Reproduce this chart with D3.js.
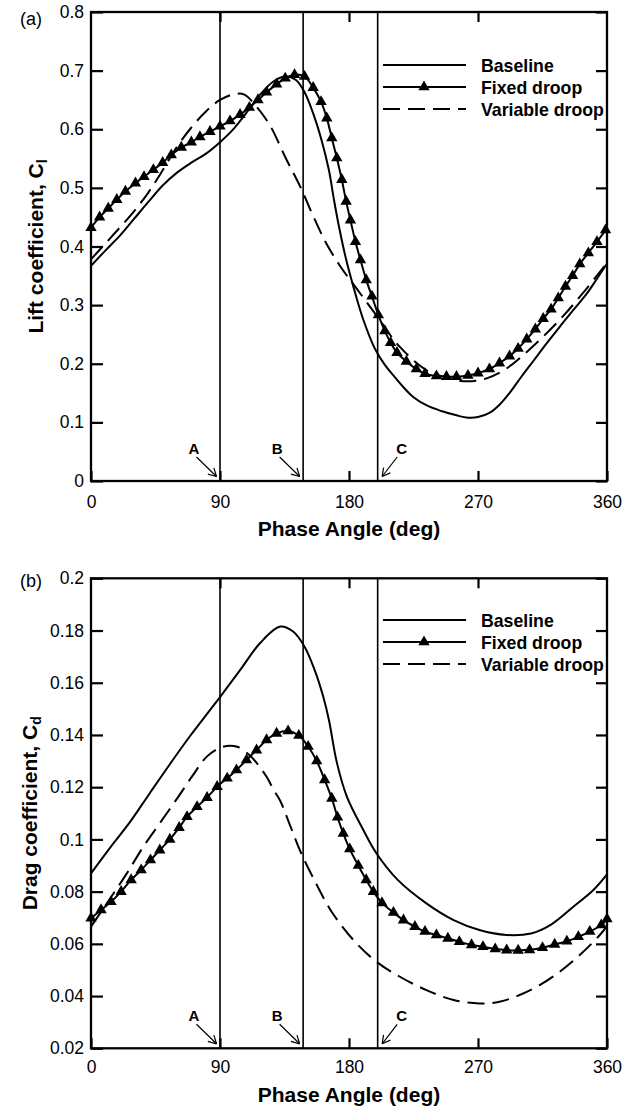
<!DOCTYPE html>
<html>
<head>
<meta charset="utf-8">
<script src="https://cdn.jsdelivr.net/npm/d3@7"></script>
<style>
body { margin: 0; background: #fff; }
text { font-family: Arial, "Liberation Sans", sans-serif; fill: #000; }
</style>
</head>
<body>
<svg id="chart" width="629" height="1106"></svg>
<script>
// phase angle (deg), coefficient
var baselineCl = [[0,0.367],[10,0.393],[20,0.418],[30,0.447],[40,0.476],[50,0.504],[60,0.526],[70,0.543],[80,0.558],[90,0.578],[100,0.602],[110,0.633],[118,0.659],[127,0.681],[135,0.690],[143,0.684],[149,0.663],[155,0.627],[161,0.580],[166,0.530],[169.5,0.480],[173,0.434],[177.5,0.383],[183,0.332],[190,0.275],[198,0.226],[205,0.198],[211,0.180],[218,0.160],[225,0.143],[235,0.128],[245,0.119],[255,0.112],[263,0.108],[270,0.109],[278,0.116],[285,0.130],[292,0.150],[300,0.177],[309,0.206],[318,0.235],[327,0.263],[337,0.293],[346,0.320],[353,0.345],[360,0.371]];
var fixedCl = [[0,0.432],[6,0.450],[12,0.465],[18,0.480],[24,0.494],[31,0.508],[37,0.519],[43.5,0.531],[50,0.543],[56,0.556],[63,0.569],[70,0.578],[76,0.587],[83,0.596],[90,0.605],[97,0.614],[104,0.625],[110.5,0.637],[116.5,0.650],[122.5,0.663],[129.5,0.677],[135.5,0.687],[142,0.693],[149,0.690],[155,0.671],[160.5,0.647],[164.5,0.619],[168,0.585],[171.5,0.551],[175,0.514],[178,0.477],[181,0.445],[184.5,0.408],[188,0.377],[192,0.343],[196,0.315],[200.5,0.283],[205,0.256],[209,0.236],[213.5,0.219],[220,0.204],[227,0.191],[233,0.183],[241,0.179],[248,0.178],[255,0.178],[263,0.180],[270,0.184],[278,0.191],[285,0.201],[292,0.213],[298,0.226],[304,0.242],[310,0.259],[315.5,0.277],[321,0.293],[326,0.312],[331,0.332],[336,0.350],[341,0.370],[347,0.389],[353,0.408],[359,0.428]];
var variableCl = [[0,0.378],[10,0.405],[20,0.432],[30,0.46],[40,0.492],[50,0.530],[60,0.570],[70,0.603],[80,0.630],[90,0.650],[100,0.660],[107,0.659],[115,0.640],[125,0.606],[136,0.550],[146,0.502],[155,0.452],[164,0.406],[174,0.366],[186,0.326],[199,0.283],[215,0.230],[234,0.189],[250,0.175],[262,0.170],[276,0.175],[290,0.192],[308,0.229],[327,0.275],[343,0.320],[360,0.372]];

var baselineCd = [[0,0.087],[13,0.0966],[27,0.1065],[41,0.1177],[55,0.1288],[69,0.1395],[83,0.1495],[90,0.1545],[104,0.1648],[118,0.1752],[132,0.1815],[141,0.1796],[149,0.1738],[156,0.1649],[162,0.1547],[166,0.1457],[171.5,0.1295],[178.5,0.1164],[190,0.1036],[199,0.0948],[214,0.0845],[234,0.0755],[253,0.0691],[271,0.0653],[290,0.0634],[307,0.0640],[321,0.0674],[336.5,0.0742],[350.5,0.0806],[360,0.0866]];
var fixedCd = [[0,0.0698],[7,0.073],[14,0.0761],[21,0.080],[28,0.0845],[35,0.0883],[41.5,0.0921],[48,0.0959],[55,0.100],[61.5,0.1045],[67,0.1087],[74,0.1125],[81,0.116],[88,0.1202],[95,0.1234],[101.5,0.1266],[108.5,0.1304],[115.5,0.1342],[122.5,0.1381],[129.5,0.1406],[137.5,0.1415],[145,0.1398],[151.5,0.1356],[157.5,0.1300],[163,0.1228],[168,0.1157],[172,0.1085],[176,0.1023],[180.5,0.0963],[186.5,0.0900],[192,0.0845],[197,0.0800],[203,0.0757],[211,0.0720],[218,0.0691],[226,0.0666],[233,0.0647],[241,0.0634],[249,0.0621],[257,0.0608],[265.5,0.0596],[273.5,0.0589],[282,0.0580],[290,0.0576],[298,0.0575],[306,0.0577],[315,0.0585],[323.5,0.0598],[332,0.0610],[340,0.0627],[348,0.0647],[356,0.0672],[360,0.0695]];
var variableCd = [[0,0.0666],[13,0.0771],[25,0.087],[36.5,0.0972],[48,0.1062],[61,0.1164],[71,0.1245],[81,0.1318],[92,0.1355],[102,0.1355],[110.5,0.1323],[116,0.1290],[122.5,0.124],[127.5,0.1189],[132,0.1148],[138.8,0.1055],[146,0.0955],[157.5,0.0826],[168,0.0722],[183,0.0615],[199,0.0532],[215.5,0.0474],[234,0.0423],[253,0.0385],[271,0.0372],[285,0.0378],[299,0.0404],[313,0.0442],[327,0.0493],[341,0.0557],[355,0.0634],[360,0.0668]];

var seriesNames = ["Baseline", "Fixed droop", "Variable droop"];

var phaseTicks = [0, 90, 180, 270, 360];
var phaseLabels = ["0", "90", "180", "270", "360"];
var clTicks = [0, 0.1, 0.2, 0.3, 0.4, 0.5, 0.6, 0.7, 0.8];
var clLabels = ["0", "0.1", "0.2", "0.3", "0.4", "0.5", "0.6", "0.7", "0.8"];
var cdTicks = [0.02, 0.04, 0.06, 0.08, 0.1, 0.12, 0.14, 0.16, 0.18, 0.2];
var cdLabels = ["0.02", "0.04", "0.06", "0.08", "0.1", "0.12", "0.14", "0.16", "0.18", "0.2"];

// marked phase positions A, B, C
var refLabels = ["A", "B", "C"];
var refPhases = [90, 148, 200];

var svg = d3.select("#chart");

function drawPanel(p) {
    let x = d3.scaleLinear().domain([0, 360]).range([p.left, p.right]);
    let y = d3.scaleLinear().domain([p.yTicks[0], p.yTicks[p.yTicks.length - 1]]).range([p.bottom, p.top]);
    let g = svg.append("g");

    let styleAxis = (sel) => {
        sel.select(".domain").remove();
        sel.selectAll(".tick line").attr("stroke", "#000").attr("stroke-width", 2.2);
        sel.selectAll(".tick text").attr("font-size", "17.5px").attr("font-family", null);
        sel.attr("font-family", null);
    };

    // axes, ticks pointing inside
    g.append("g")
        .attr("transform", `translate(${p.left},0)`)
        .call(d3.axisLeft(y).tickValues(p.yTicks).tickFormat((d, i) => p.yLabels[i]).tickSize(-12).tickPadding(7))
        .call(styleAxis);
    g.append("g")
        .attr("transform", `translate(${p.right},0)`)
        .call(d3.axisRight(y).tickValues(p.yTicks).tickFormat("").tickSize(-11))
        .call(styleAxis);
    g.append("g")
        .attr("transform", `translate(0,${p.bottom})`)
        .call(d3.axisBottom(x).tickValues(phaseTicks).tickFormat((d, i) => phaseLabels[i]).tickSize(-10).tickPadding(p.xPad))
        .call(styleAxis);
    g.append("g")
        .attr("transform", `translate(0,${p.top})`)
        .call(d3.axisTop(x).tickValues([90, 180, 270]).tickFormat("").tickSize(-10))
        .call(styleAxis);

    // vertical reference lines
    g.selectAll(".ref")
        .data(refPhases)
        .enter()
        .append("line")
        .attr("x1", (d) => x(d)).attr("x2", (d) => x(d))
        .attr("y1", p.top).attr("y2", p.bottom)
        .attr("stroke", "#000")
        .attr("stroke-width", 1.6);

    let line = d3.line()
        .x((d) => x(d[0]))
        .y((d) => y(d[1]))
        .curve(d3.curveCatmullRom.alpha(0.5));

    g.append("path").datum(p.base)
        .attr("d", line).attr("fill", "none").attr("stroke", "#000").attr("stroke-width", 2);
    g.append("path").datum(p.variable)
        .attr("d", line).attr("fill", "none").attr("stroke", "#000").attr("stroke-width", 2)
        .attr("stroke-dasharray", "17,8");
    g.append("path").datum(p.fixed)
        .attr("d", line).attr("fill", "none").attr("stroke", "#000").attr("stroke-width", 2);

    let tri = d3.symbol().type(d3.symbolTriangle).size(56);
    g.selectAll(".tri")
        .data(p.fixed)
        .enter()
        .append("path")
        .attr("d", tri)
        .attr("transform", (d) => `translate(${x(d[0])},${y(d[1])})`)
        .attr("fill", "#000");

    // frame
    g.append("rect")
        .attr("x", p.left).attr("y", p.top)
        .attr("width", p.right - p.left).attr("height", p.bottom - p.top)
        .attr("fill", "none").attr("stroke", "#000").attr("stroke-width", 2.3);

    // A, B, C arrows
    let side = [-1, -1, 1];
    refPhases.forEach((ph, i) => {
        let lx = x(ph);
        let x0 = lx + side[i] * (i == 2 ? 19.5 : 23.5), y0 = p.bottom - 24;
        let x1 = lx + side[i] * (i == 2 ? 4.5 : 3.5), y1 = p.bottom - 4.5;
        g.append("line").attr("x1", x0).attr("y1", y0).attr("x2", x1).attr("y2", y1)
            .attr("stroke", "#000").attr("stroke-width", 1.2);
        let ang = Math.atan2(y1 - y0, x1 - x0);
        [0.5, -0.5].forEach((w) => {
            g.append("line")
                .attr("x1", x1).attr("y1", y1)
                .attr("x2", x1 - 9 * Math.cos(ang + w)).attr("y2", y1 - 9 * Math.sin(ang + w))
                .attr("stroke", "#000").attr("stroke-width", 1.2);
        });
        g.append("text")
            .attr("x", lx + side[i] * (i == 2 ? 24 : 26))
            .attr("y", p.bottom - 27)
            .attr("text-anchor", "middle")
            .attr("font-size", "15px")
            .attr("font-weight", "bold")
            .text(refLabels[i]);
    });

    // legend
    let leg = g.append("g");
    seriesNames.forEach((name, i) => {
        let ly = p.legendY + i * 22;
        leg.append("line")
            .attr("x1", 383).attr("x2", 466).attr("y1", ly).attr("y2", ly)
            .attr("stroke", "#000").attr("stroke-width", 2.2)
            .attr("stroke-dasharray", i == 2 ? "17,8" : null);
        if (i == 1) {
            leg.append("path").attr("d", tri).attr("transform", `translate(424,${ly})`).attr("fill", "#000");
        }
        leg.append("text")
            .attr("x", 481).attr("y", ly + 6.5)
            .attr("font-size", "17.7px").attr("font-weight", "bold")
            .text(name);
    });

    // axis titles
    g.append("text")
        .attr("x", (p.left + p.right) / 2)
        .attr("y", p.titleY)
        .attr("text-anchor", "middle")
        .attr("font-size", "21px").attr("font-weight", "bold")
        .text("Phase Angle (deg)");
    let yt = g.append("text")
        .attr("transform", `translate(${p.yTitleX},${(p.top + p.bottom) / 2}) rotate(-90)`)
        .attr("text-anchor", "middle")
        .attr("font-size", "21px").attr("font-weight", "bold");
    yt.append("tspan").text(p.yTitle);
    yt.append("tspan").attr("dy", "0.3em").attr("font-size", "14px").text(p.yTitleSub);

    g.append("text")
        .attr("x", 20).attr("y", p.panelLabelY)
        .attr("font-size", "18px")
        .text(p.panelLabel);
}

drawPanel({
    left: 91, right: 607, top: 12, bottom: 481,
    yTicks: clTicks, yLabels: clLabels,
    base: baselineCl, fixed: fixedCl, variable: variableCl,
    xPad: 14.5, titleY: 536, yTitleX: 43, legendY: 65,
    yTitle: "Lift coefficient, C", yTitleSub: "l",
    panelLabel: "(a)", panelLabelY: 25
});

drawPanel({
    left: 91, right: 607, top: 578.3, bottom: 1048.3,
    yTicks: cdTicks, yLabels: cdLabels,
    base: baselineCd, fixed: fixedCd, variable: variableCd,
    xPad: 12.5, titleY: 1102, yTitleX: 37, legendY: 620,
    yTitle: "Drag coefficient, C", yTitleSub: "d",
    panelLabel: "(b)", panelLabelY: 587
});
</script>
</body>
</html>
